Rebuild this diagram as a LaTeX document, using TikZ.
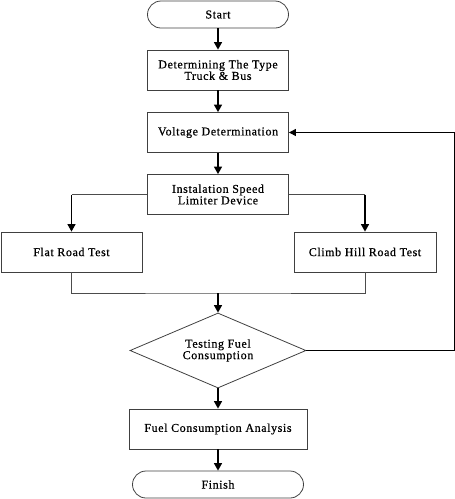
\documentclass[tikz,border=0pt]{standalone}
\usepackage{fontspec}
\setmainfont[LetterSpace=5, FakeBold=0.6]{Liberation Serif}
\usetikzlibrary{shapes.geometric,arrows.meta}

\begin{document}
\begin{tikzpicture}[x=1pt, y=-1pt,
    box/.style={draw=black!75, line width=0.8pt, minimum width=141pt, minimum height=40pt,
        inner sep=0pt, align=center, font=\fontsize{12}{11.5}\selectfont},
    term/.style={box, rounded corners=13.5pt, minimum height=27pt},
    choice/.style={box, diamond, aspect=2.35, minimum width=176pt, minimum height=75pt},
    flow/.style={line width=1.4pt, -{Triangle[length=7.5pt, width=8pt]}},
    link/.style={line width=0.8pt, draw=black!70},
    back/.style={line width=1pt, -{Triangle[length=7pt, width=7pt]}}]

    % frame
    \useasboundingbox (0, 0) rectangle (455, 499);

    % steps
    \node[term] (start) at (218, 14.5) {Start};
    \node[box] (type) at (218, 70) {Determining The Type\\Truck \& Bus};
    \node[box] (volt) at (218, 132.5) {Voltage Determination};
    \node[box] (inst) at (218, 194.5) {Instalation Speed\\Limiter Device};
    \node[box] (flat) at (71.5, 252) {Flat Road Test};
    \node[box, minimum width=142pt] (climb) at (365, 252) {Climb Hill Road Test};
    \node[choice] (test) at (218, 350.5) {Testing Fuel\\Consumption};
    \node[box, minimum width=178pt] (fuel) at (218, 429) {Fuel Consumption Analysis};
    \node[term, minimum width=171pt] (finish) at (218, 484.5) {Finish};

    % helper points
    \coordinate (join) at (218, 293);
    \coordinate (loop) at (454, 0);

    % straight arrows
    \foreach \a / \b in {start/type, type/volt, volt/inst, test/fuel, fuel/finish} {
        \draw[flow] (\a) -- (\b);
    }

    % branches
    \foreach \s / \t in {west/flat, east/climb} {
        \draw[link] (inst.\s) -- (inst.\s -| \t.north);
        \draw[flow] (inst.\s -| \t.north) -- (\t.north);
    }

    % merge
    \draw[link] (flat.south) |- (join) -| (climb.south);
    \draw[flow] (join) -- (test.north);

    % feedback
    \draw[back] (test.east) -- (test.east -| loop) |- (volt.east);

\end{tikzpicture}
\end{document}
